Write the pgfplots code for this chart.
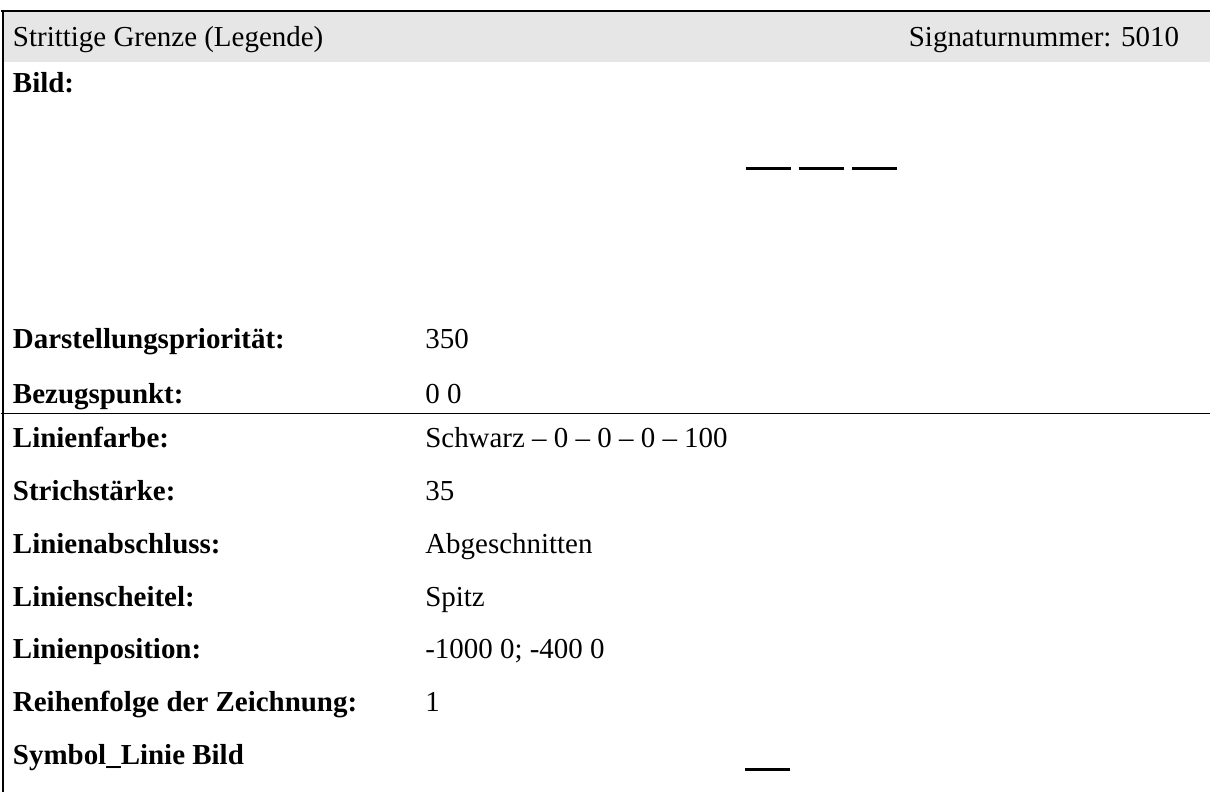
\documentclass[border=0pt]{standalone}
\usepackage{pgfplots}
\pgfplotsset{compat=1.18}
\usepackage{fontspec}
\setmainfont{Liberation Serif}
\definecolor{hdr}{RGB}{230,230,230}
\tikzset{t/.style={anchor=base west,inner sep=0pt,outer sep=0pt,font=\fontsize{14.5pt}{17pt}\selectfont},
         te/.style={anchor=base east,inner sep=0pt,outer sep=0pt,font=\fontsize{14.5pt}{17pt}\selectfont}}
\begin{document}
\begin{tikzpicture}
\begin{axis}[width=605.5pt,height=396.5pt,scale only axis,
  xmin=0,xmax=1211,ymin=0,ymax=793,y dir=reverse,hide axis,clip=false]
% header band
\addplot[fill=hdr,draw=none] coordinates {(3,12) (1211,12) (1211,62) (3,62)} --cycle;
% borders
\addplot[black,line width=1pt] coordinates {(0,11) (1211,11)};
\addplot[black,line width=1pt] coordinates {(2,10) (2,793)};
\addplot[black,line width=0.75pt] coordinates {(0,414) (1211,414)};
% dashed symbol
\addplot[black,line width=1.5pt,dash pattern=on 22.5pt off 4pt] coordinates {(746,169) (897,169)};
% bottom symbol
\addplot[black,line width=1.5pt] coordinates {(745,771) (790,771)};
\path (axis cs:0,0) (axis cs:1211,793);
\node[t] at (axis cs:12,47) {Strittige Grenze (Legende)};
\node[te] at (axis cs:1180,47) {Signaturnummer: 5010};
\node[t] at (axis cs:12,93) {\bfseries Bild:};
\node[t] at (axis cs:12,349) {\bfseries Darstellungspriorität:};
\node[t] at (axis cs:425,349) {350};
\node[t] at (axis cs:12,404) {\bfseries Bezugspunkt:};
\node[t] at (axis cs:425,404) {0 0};
\node[t] at (axis cs:12,448) {\bfseries Linienfarbe:};
\node[t] at (axis cs:425,448) {Schwarz -- 0 -- 0 -- 0 -- 100};
\node[t] at (axis cs:12,501) {\bfseries Strichstärke:};
\node[t] at (axis cs:425,501) {35};
\node[t] at (axis cs:12,554) {\bfseries Linienabschluss:};
\node[t] at (axis cs:425,554) {Abgeschnitten};
\node[t] at (axis cs:12,607) {\bfseries Linienscheitel:};
\node[t] at (axis cs:425,607) {Spitz};
\node[t] at (axis cs:12,660) {\bfseries Linienposition:};
\node[t] at (axis cs:425,660) {-1000 0; -400 0};
\node[t] at (axis cs:12,713) {\bfseries Reihenfolge der Zeichnung:};
\node[t] at (axis cs:425,713) {1};
\node[t] at (axis cs:12,766) {\bfseries Symbol\_Linie Bild};
\end{axis}
\end{tikzpicture}
\end{document}
